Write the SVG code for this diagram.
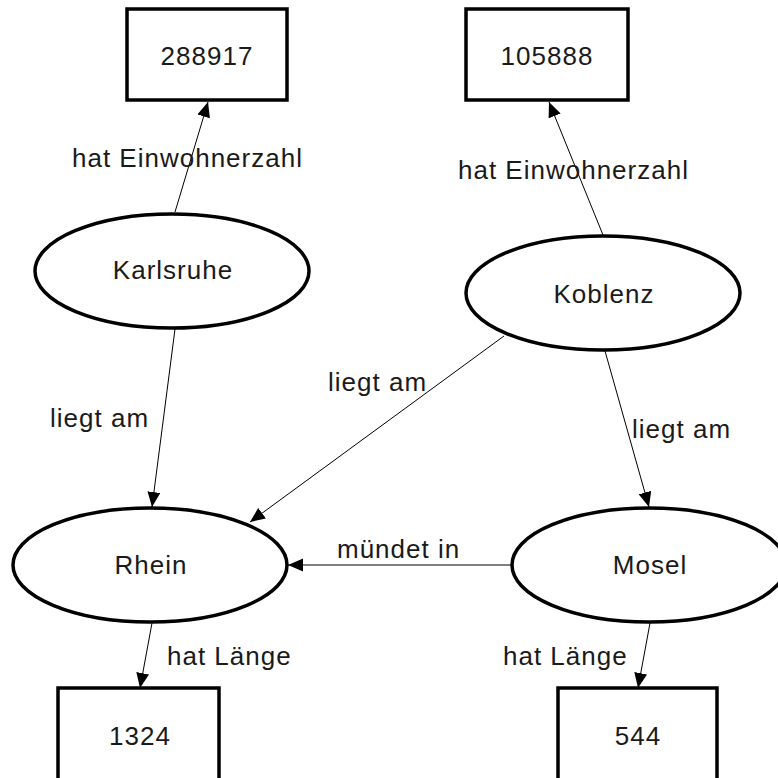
<svg xmlns="http://www.w3.org/2000/svg" width="778" height="778" viewBox="0 0 778 778">
<style>
  .box { fill: #fff; stroke: #000; stroke-width: 3.5; }
  .ell { fill: #fff; stroke: #000; stroke-width: 3.5; }
  .edge { stroke: #000; stroke-width: 1; fill: none; marker-end: url(#arr); }
  text { font-family: "Liberation Sans", Arial, sans-serif; font-size: 26px; fill: #1a1a1a; letter-spacing: 1px; }
  .c { text-anchor: middle; }
</style>
<defs>
  <marker id="arr" markerUnits="userSpaceOnUse" markerWidth="16" markerHeight="14" refX="15" refY="6.5" orient="auto">
    <path d="M0,0 L15,6.5 L0,13 z" fill="#000"/>
  </marker>
</defs>
<rect width="778" height="778" fill="#fff"/>
<g id="connectors">
  <line class="edge" x1="175" y1="212" x2="208" y2="102"/>
  <line class="edge" x1="603" y1="235" x2="549" y2="102"/>
  <line class="edge" x1="175" y1="329" x2="152" y2="507"/>
  <line class="edge" x1="504" y1="336" x2="250" y2="522"/>
  <line class="edge" x1="605" y1="351" x2="649" y2="507"/>
  <line class="edge" x1="512" y1="565" x2="288" y2="565"/>
  <line class="edge" x1="152" y1="623" x2="140" y2="688"/>
  <line class="edge" x1="650" y1="623" x2="638" y2="688"/>
  <text x="72" y="167">hat Einwohnerzahl</text>
  <text x="458" y="179">hat Einwohnerzahl</text>
  <text x="50" y="427">liegt am</text>
  <text x="328" y="391">liegt am</text>
  <text x="632" y="438">liegt am</text>
  <text x="337" y="558">mündet in</text>
  <text x="167" y="665">hat Länge</text>
  <text x="503" y="665">hat Länge</text>
</g>
<g id="n288917">
  <rect class="box" x="127" y="9" width="160" height="91"/>
  <text class="c" x="207" y="65">288917</text>
</g>
<g id="n105888">
  <rect class="box" x="466" y="9" width="162" height="91"/>
  <text class="c" x="547" y="65">105888</text>
</g>
<g id="karlsruhe">
  <ellipse class="ell" cx="172" cy="271" rx="137" ry="57"/>
  <text class="c" x="173" y="279">Karlsruhe</text>
</g>
<g id="koblenz">
  <ellipse class="ell" cx="603" cy="293" rx="137" ry="57"/>
  <text class="c" x="604" y="303">Koblenz</text>
</g>
<g id="rhein">
  <ellipse class="ell" cx="150" cy="565" rx="137" ry="57"/>
  <text class="c" x="151" y="574">Rhein</text>
</g>
<g id="mosel">
  <ellipse class="ell" cx="649" cy="565" rx="137" ry="57"/>
  <text class="c" x="650" y="574">Mosel</text>
</g>
<g id="n1324">
  <rect class="box" x="58" y="688" width="161" height="100"/>
  <text class="c" x="140" y="745">1324</text>
</g>
<g id="n544">
  <rect class="box" x="558" y="688" width="159" height="100"/>
  <text class="c" x="638" y="745">544</text>
</g>
</svg>
